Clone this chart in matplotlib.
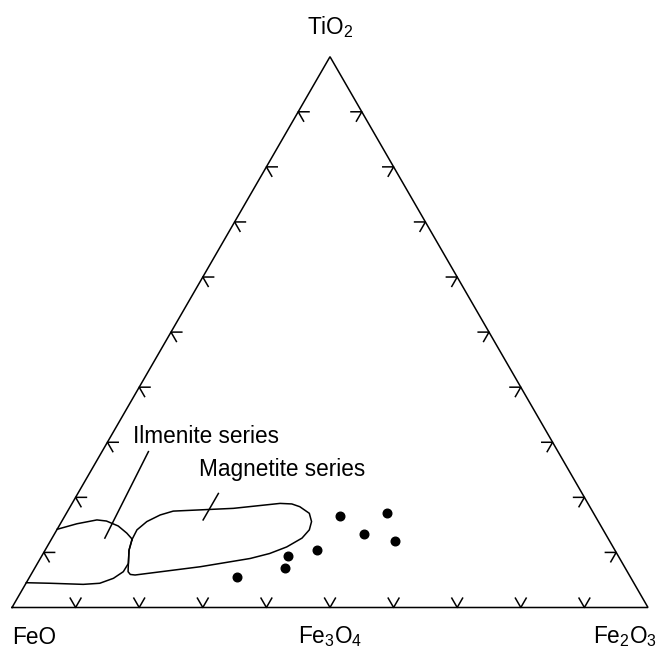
import math
import matplotlib
matplotlib.use("Agg")
from matplotlib import pyplot as plt

plt.rcParams['font.family'] = ['Liberation Sans', 'DejaVu Sans']
plt.rcParams['mathtext.fontset'] = 'custom'
plt.rcParams['mathtext.rm'] = 'Liberation Sans'
plt.rcParams['mathtext.it'] = 'Liberation Sans'

# compositions in percent: TiO2 and Fe2O3 (FeO is the rest)
point_tio2 = [5.5, 7.2, 9.4, 10.4, 16.6, 13.3, 17.2, 12.0]
point_fe2o3 = [32.7, 39.4, 38.7, 42.7, 43.3, 48.7, 50.4, 54.2]

ilmenite_tio2 = [4.5, 4.4, 4.2, 4.4, 5.3, 6.5, 8.0, 10.4, 12.4, 13.5, 14.8, 15.7, 15.9, 15.2, 14.2]
ilmenite_fe2o3 = [0.0, 3.8, 9.1, 11.6, 13.3, 14.25, 14.3, 13.2, 12.7, 11.3, 9.3, 7.0, 5.4, 2.6, 0.0]

magnetite_tio2 = [12.3, 14.1, 15.6, 16.8, 17.5, 18.0, 18.9, 18.8, 18.3, 17.1, 15.6, 14.1, 12.6,
                  11.0, 9.8, 8.9, 7.4, 5.9, 6.0, 6.5, 8.0, 10.4, 12.3]
magnetite_fe2o3 = [12.7, 12.6, 13.4, 14.9, 16.6, 25.8, 32.7, 34.6, 36.1, 38.2, 39.3, 39.7, 39.3,
                   37.7, 35.6, 33.0, 25.9, 16.4, 15.6, 15.0, 14.3, 13.2, 12.7]

labels = ["Ilmenite series", "Magnetite series"]
label_tio2 = [31.0, 25.0]
label_fe2o3 = [3.5, 16.9]
leader_tio2 = [[28.3, 12.6], [20.7, 15.9]]
leader_fe2o3 = [[7.3, 8.3], [22.1, 22.1]]

ticks = [10, 20, 30, 40, 50, 60, 70, 80, 90]
S = math.sqrt(3) / 2


def to_xy(t, r):
    t = t / 100
    r = r / 100
    return r + t / 2, t * S


def to_xy_list(ts, rs):
    xs, ys = [], []
    for t, r in zip(ts, rs):
        x, y = to_xy(t, r)
        xs.append(x)
        ys.append(y)
    return xs, ys


fig = plt.figure(figsize=(6.58, 6.50), dpi=100)
ax = fig.add_axes([0, 0, 1, 1])
ax.set_xlim(-12 / 636, 646 / 636)
ax.set_ylim(-42.5 / 636, 607.5 / 636)
ax.axis('off')

lw = 1.1
ax.plot([0, 1, 0.5, 0], [0, 0, S, 0], '-k', lw=lw, solid_joinstyle='miter')

# arrow ticks, arms parallel to the other two sides
L = 0.017
c60, s60 = 0.5, S
for v in ticks:
    x, y = to_xy(0, v)
    ax.plot([x - L * c60, x, x + L * c60], [L * s60, y, L * s60], '-k', lw=lw)
    x, y = to_xy(v, 0)
    ax.plot([x + L, x, x + L * c60], [y, y, y - L * s60], '-k', lw=lw)
    x, y = to_xy(v, 100 - v)
    ax.plot([x - L, x, x - L * c60], [y, y, y - L * s60], '-k', lw=lw)

xs, ys = to_xy_list(ilmenite_tio2, ilmenite_fe2o3)
ax.plot(xs, ys, '-k', lw=lw)
xs, ys = to_xy_list(magnetite_tio2, magnetite_fe2o3)
ax.plot(xs, ys, '-k', lw=lw)

xs, ys = to_xy_list(point_tio2, point_fe2o3)
ax.plot(xs, ys, 'ok', ms=6.2, ls='none')

fs = 16.3
for name, t, r, lt, lr in zip(labels, label_tio2, label_fe2o3, leader_tio2, leader_fe2o3):
    x, y = to_xy(t, r)
    ax.text(x, y, name, fontsize=fs, ha='left', va='center')
    xs, ys = to_xy_list(lt, lr)
    ax.plot(xs, ys, '-k', lw=lw)

ax.annotate('TiO$_2$', to_xy(100, 0), xytext=(0, 30), textcoords='offset pixels',
            ha='center', va='center', fontsize=fs)
ax.annotate('FeO', to_xy(0, 0), xytext=(0, -36), textcoords='offset pixels',
            ha='left', va='baseline', fontsize=fs)
ax.annotate('Fe$_3$O$_4$', to_xy(0, 50), xytext=(0, -36), textcoords='offset pixels',
            ha='center', va='baseline', fontsize=fs)
ax.annotate('Fe$_2$O$_3$', to_xy(0, 100), xytext=(9, -36), textcoords='offset pixels',
            ha='right', va='baseline', fontsize=fs)

fig.savefig('out.png', dpi=100)
